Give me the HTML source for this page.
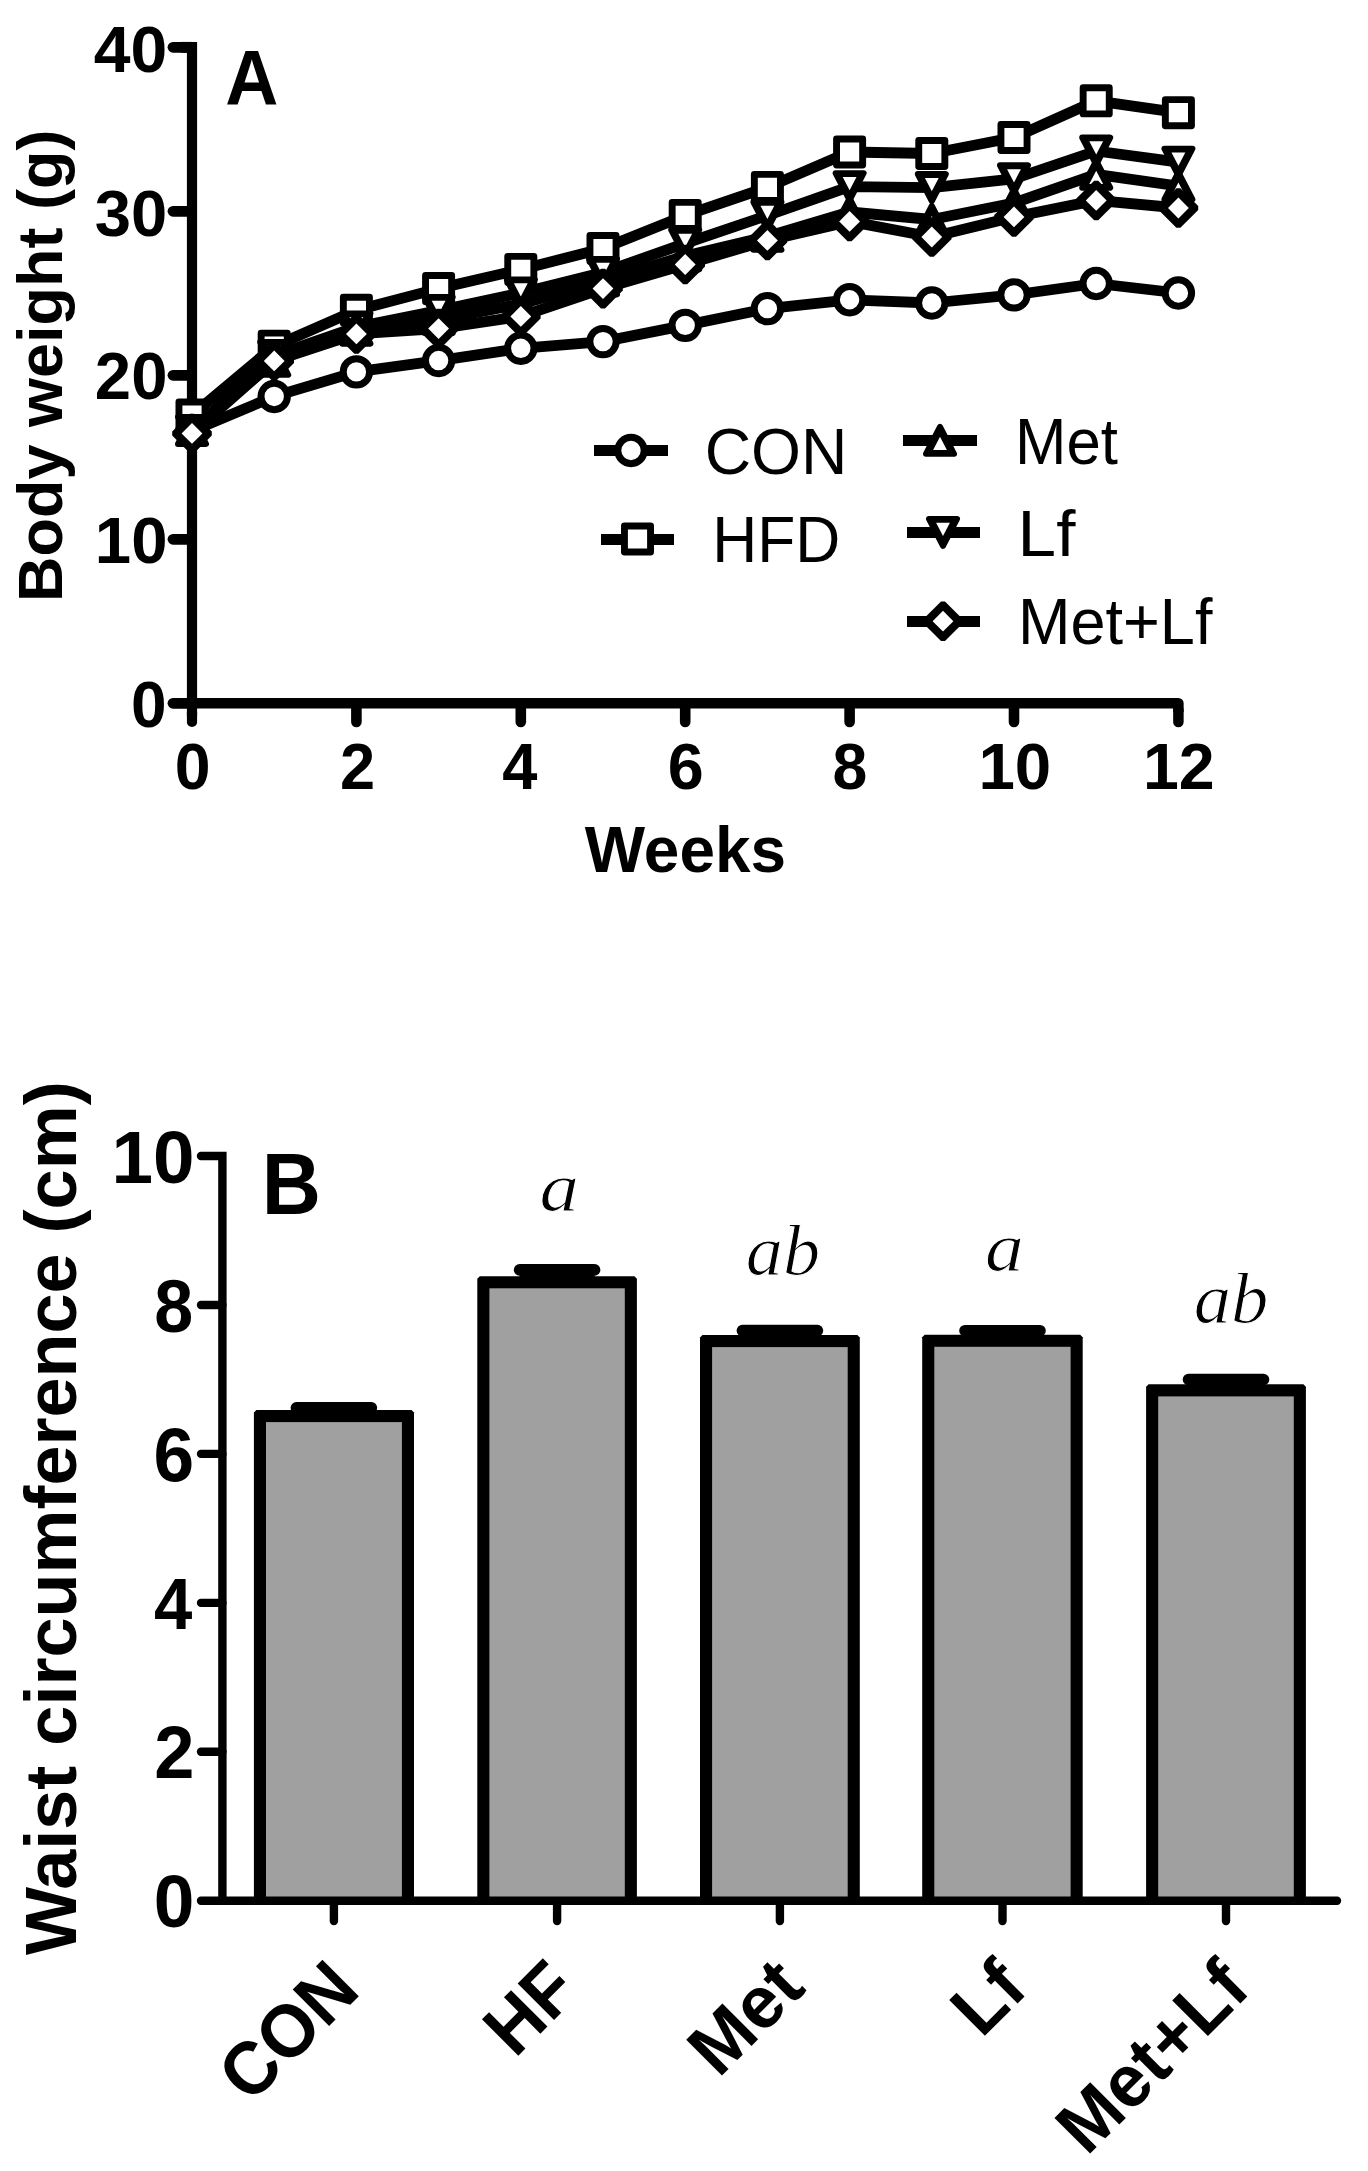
<!DOCTYPE html>
<html><head><meta charset="utf-8"><title>Figure</title>
<style>html,body{margin:0;padding:0;background:#fff;}svg{display:block;}</style>
</head><body>
<svg width="1368" height="2171" viewBox="0 0 1368 2171">
<rect width="1368" height="2171" fill="#fff"/>
<g stroke="#000" fill="none">
<line x1="173" y1="47.30" x2="190" y2="47.30" stroke-width="10.8" stroke-linecap="round"/>
<path d="M181,47.30 L192,47.30" stroke-width="10.8" stroke-linejoin="miter"/>
<line x1="192" y1="41.90" x2="192" y2="716" stroke-width="10.2"/>
<line x1="192" y1="712" x2="192" y2="722" stroke-width="10.2" stroke-linecap="round"/>
<line x1="173" y1="211.30" x2="190" y2="211.30" stroke-width="10.8" stroke-linecap="round"/>
<line x1="173" y1="375.30" x2="190" y2="375.30" stroke-width="10.8" stroke-linecap="round"/>
<line x1="173" y1="539.30" x2="190" y2="539.30" stroke-width="10.8" stroke-linecap="round"/>
<line x1="173" y1="703.30" x2="190" y2="703.30" stroke-width="10.8" stroke-linecap="round"/>
<path d="M192,703.3 L1178.40,703.3 L1178.40,712" stroke-width="10.5" stroke-linejoin="round"/>
<line x1="1178.40" y1="710" x2="1178.40" y2="722" stroke-width="10.5" stroke-linecap="round"/>
<line x1="356.40" y1="706.3" x2="356.40" y2="722" stroke-width="10.6" stroke-linecap="round"/>
<line x1="520.80" y1="706.3" x2="520.80" y2="722" stroke-width="10.6" stroke-linecap="round"/>
<line x1="685.20" y1="706.3" x2="685.20" y2="722" stroke-width="10.6" stroke-linecap="round"/>
<line x1="849.60" y1="706.3" x2="849.60" y2="722" stroke-width="10.6" stroke-linecap="round"/>
<line x1="1014.00" y1="706.3" x2="1014.00" y2="722" stroke-width="10.6" stroke-linecap="round"/>
</g>
<polyline points="192.0,431.0 274.2,396.4 356.4,371.9 438.6,360.6 520.8,348.3 603.0,341.6 685.2,325.4 767.4,308.6 849.6,299.8 931.8,303.0 1014.0,294.9 1096.2,283.5 1178.4,293.0" fill="none" stroke="#000" stroke-width="10.8" stroke-linejoin="round"/>
<circle cx="192.00" cy="431.00" r="13.2" fill="#fff" stroke="#000" stroke-width="7"/>
<circle cx="274.20" cy="396.45" r="13.2" fill="#fff" stroke="#000" stroke-width="7"/>
<circle cx="356.40" cy="371.90" r="13.2" fill="#fff" stroke="#000" stroke-width="7"/>
<circle cx="438.60" cy="360.55" r="13.2" fill="#fff" stroke="#000" stroke-width="7"/>
<circle cx="520.80" cy="348.30" r="13.2" fill="#fff" stroke="#000" stroke-width="7"/>
<circle cx="603.00" cy="341.60" r="13.2" fill="#fff" stroke="#000" stroke-width="7"/>
<circle cx="685.20" cy="325.35" r="13.2" fill="#fff" stroke="#000" stroke-width="7"/>
<circle cx="767.40" cy="308.60" r="13.2" fill="#fff" stroke="#000" stroke-width="7"/>
<circle cx="849.60" cy="299.75" r="13.2" fill="#fff" stroke="#000" stroke-width="7"/>
<circle cx="931.80" cy="303.00" r="13.2" fill="#fff" stroke="#000" stroke-width="7"/>
<circle cx="1014.00" cy="294.90" r="13.2" fill="#fff" stroke="#000" stroke-width="7"/>
<circle cx="1096.20" cy="283.50" r="13.2" fill="#fff" stroke="#000" stroke-width="7"/>
<circle cx="1178.40" cy="293.00" r="13.2" fill="#fff" stroke="#000" stroke-width="7"/>
<polyline points="192.0,415.1 274.2,346.2 356.4,310.2 438.6,288.6 520.8,269.4 603.0,248.6 685.2,215.4 767.4,187.4 849.6,152.0 931.8,153.5 1014.0,137.5 1096.2,100.8 1178.4,112.7" fill="none" stroke="#000" stroke-width="10.8" stroke-linejoin="round"/>
<rect x="178.95" y="402.00" width="26.1" height="26.1" fill="#fff" stroke="#000" stroke-width="6.9" stroke-linejoin="round"/>
<rect x="261.15" y="333.15" width="26.1" height="26.1" fill="#fff" stroke="#000" stroke-width="6.9" stroke-linejoin="round"/>
<rect x="343.35" y="297.20" width="26.1" height="26.1" fill="#fff" stroke="#000" stroke-width="6.9" stroke-linejoin="round"/>
<rect x="425.55" y="275.55" width="26.1" height="26.1" fill="#fff" stroke="#000" stroke-width="6.9" stroke-linejoin="round"/>
<rect x="507.75" y="256.40" width="26.1" height="26.1" fill="#fff" stroke="#000" stroke-width="6.9" stroke-linejoin="round"/>
<rect x="589.95" y="235.50" width="26.1" height="26.1" fill="#fff" stroke="#000" stroke-width="6.9" stroke-linejoin="round"/>
<rect x="672.15" y="202.40" width="26.1" height="26.1" fill="#fff" stroke="#000" stroke-width="6.9" stroke-linejoin="round"/>
<rect x="754.35" y="174.40" width="26.1" height="26.1" fill="#fff" stroke="#000" stroke-width="6.9" stroke-linejoin="round"/>
<rect x="836.55" y="138.95" width="26.1" height="26.1" fill="#fff" stroke="#000" stroke-width="6.9" stroke-linejoin="round"/>
<rect x="918.75" y="140.45" width="26.1" height="26.1" fill="#fff" stroke="#000" stroke-width="6.9" stroke-linejoin="round"/>
<rect x="1000.95" y="124.45" width="26.1" height="26.1" fill="#fff" stroke="#000" stroke-width="6.9" stroke-linejoin="round"/>
<rect x="1083.15" y="87.80" width="26.1" height="26.1" fill="#fff" stroke="#000" stroke-width="6.9" stroke-linejoin="round"/>
<rect x="1165.35" y="99.60" width="26.1" height="26.1" fill="#fff" stroke="#000" stroke-width="6.9" stroke-linejoin="round"/>
<polyline points="192.0,430.5 274.2,361.4 356.4,330.2 438.6,319.6 520.8,304.0 603.0,281.0 685.2,256.0 767.4,236.4 849.6,212.0 931.8,219.5 1014.0,203.0 1096.2,174.3 1178.4,186.0" fill="none" stroke="#000" stroke-width="10.8" stroke-linejoin="round"/>
<path d="M192.00,417.00 L206.00,443.95 L178.00,443.95 Z" fill="#000" stroke="#000" stroke-width="6" stroke-linejoin="round"/><path d="M192.00,426.90 L198.90,440.15 L185.10,440.15 Z" fill="#fff"/>
<path d="M274.20,347.90 L288.20,374.85 L260.20,374.85 Z" fill="#000" stroke="#000" stroke-width="6" stroke-linejoin="round"/><path d="M274.20,357.80 L281.10,371.05 L267.30,371.05 Z" fill="#fff"/>
<path d="M356.40,316.75 L370.40,343.70 L342.40,343.70 Z" fill="#000" stroke="#000" stroke-width="6" stroke-linejoin="round"/><path d="M356.40,326.65 L363.30,339.90 L349.50,339.90 Z" fill="#fff"/>
<path d="M438.60,306.10 L452.60,333.05 L424.60,333.05 Z" fill="#000" stroke="#000" stroke-width="6" stroke-linejoin="round"/><path d="M438.60,316.00 L445.50,329.25 L431.70,329.25 Z" fill="#fff"/>
<path d="M520.80,290.50 L534.80,317.45 L506.80,317.45 Z" fill="#000" stroke="#000" stroke-width="6" stroke-linejoin="round"/><path d="M520.80,300.40 L527.70,313.65 L513.90,313.65 Z" fill="#fff"/>
<path d="M603.00,267.50 L617.00,294.45 L589.00,294.45 Z" fill="#000" stroke="#000" stroke-width="6" stroke-linejoin="round"/><path d="M603.00,277.40 L609.90,290.65 L596.10,290.65 Z" fill="#fff"/>
<path d="M685.20,242.50 L699.20,269.45 L671.20,269.45 Z" fill="#000" stroke="#000" stroke-width="6" stroke-linejoin="round"/><path d="M685.20,252.40 L692.10,265.65 L678.30,265.65 Z" fill="#fff"/>
<path d="M767.40,222.90 L781.40,249.85 L753.40,249.85 Z" fill="#000" stroke="#000" stroke-width="6" stroke-linejoin="round"/><path d="M767.40,232.80 L774.30,246.05 L760.50,246.05 Z" fill="#fff"/>
<path d="M849.60,198.50 L863.60,225.45 L835.60,225.45 Z" fill="#000" stroke="#000" stroke-width="6" stroke-linejoin="round"/><path d="M849.60,208.40 L856.50,221.65 L842.70,221.65 Z" fill="#fff"/>
<path d="M931.80,206.00 L945.80,232.95 L917.80,232.95 Z" fill="#000" stroke="#000" stroke-width="6" stroke-linejoin="round"/><path d="M931.80,215.90 L938.70,229.15 L924.90,229.15 Z" fill="#fff"/>
<path d="M1014.00,189.50 L1028.00,216.45 L1000.00,216.45 Z" fill="#000" stroke="#000" stroke-width="6" stroke-linejoin="round"/><path d="M1014.00,199.40 L1020.90,212.65 L1007.10,212.65 Z" fill="#fff"/>
<path d="M1096.20,160.80 L1110.20,187.75 L1082.20,187.75 Z" fill="#000" stroke="#000" stroke-width="6" stroke-linejoin="round"/><path d="M1096.20,170.70 L1103.10,183.95 L1089.30,183.95 Z" fill="#fff"/>
<path d="M1178.40,172.50 L1192.40,199.45 L1164.40,199.45 Z" fill="#000" stroke="#000" stroke-width="6" stroke-linejoin="round"/><path d="M1178.40,182.40 L1185.30,195.65 L1171.50,195.65 Z" fill="#fff"/>
<polyline points="192.0,430.4 274.2,355.5 356.4,327.0 438.6,310.5 520.8,293.0 603.0,272.4 685.2,243.4 767.4,215.5 849.6,186.6 931.8,187.6 1014.0,178.8 1096.2,151.0 1178.4,162.1" fill="none" stroke="#000" stroke-width="10.8" stroke-linejoin="round"/>
<path d="M192.00,443.90 L206.00,416.95 L178.00,416.95 Z" fill="#000" stroke="#000" stroke-width="6" stroke-linejoin="round"/><path d="M192.00,434.00 L198.90,420.75 L185.10,420.75 Z" fill="#fff"/>
<path d="M274.20,369.00 L288.20,342.05 L260.20,342.05 Z" fill="#000" stroke="#000" stroke-width="6" stroke-linejoin="round"/><path d="M274.20,359.10 L281.10,345.85 L267.30,345.85 Z" fill="#fff"/>
<path d="M356.40,340.50 L370.40,313.55 L342.40,313.55 Z" fill="#000" stroke="#000" stroke-width="6" stroke-linejoin="round"/><path d="M356.40,330.60 L363.30,317.35 L349.50,317.35 Z" fill="#fff"/>
<path d="M438.60,324.00 L452.60,297.05 L424.60,297.05 Z" fill="#000" stroke="#000" stroke-width="6" stroke-linejoin="round"/><path d="M438.60,314.10 L445.50,300.85 L431.70,300.85 Z" fill="#fff"/>
<path d="M520.80,306.50 L534.80,279.55 L506.80,279.55 Z" fill="#000" stroke="#000" stroke-width="6" stroke-linejoin="round"/><path d="M520.80,296.60 L527.70,283.35 L513.90,283.35 Z" fill="#fff"/>
<path d="M603.00,285.90 L617.00,258.95 L589.00,258.95 Z" fill="#000" stroke="#000" stroke-width="6" stroke-linejoin="round"/><path d="M603.00,276.00 L609.90,262.75 L596.10,262.75 Z" fill="#fff"/>
<path d="M685.20,256.90 L699.20,229.95 L671.20,229.95 Z" fill="#000" stroke="#000" stroke-width="6" stroke-linejoin="round"/><path d="M685.20,247.00 L692.10,233.75 L678.30,233.75 Z" fill="#fff"/>
<path d="M767.40,229.00 L781.40,202.05 L753.40,202.05 Z" fill="#000" stroke="#000" stroke-width="6" stroke-linejoin="round"/><path d="M767.40,219.10 L774.30,205.85 L760.50,205.85 Z" fill="#fff"/>
<path d="M849.60,200.10 L863.60,173.15 L835.60,173.15 Z" fill="#000" stroke="#000" stroke-width="6" stroke-linejoin="round"/><path d="M849.60,190.20 L856.50,176.95 L842.70,176.95 Z" fill="#fff"/>
<path d="M931.80,201.05 L945.80,174.10 L917.80,174.10 Z" fill="#000" stroke="#000" stroke-width="6" stroke-linejoin="round"/><path d="M931.80,191.15 L938.70,177.90 L924.90,177.90 Z" fill="#fff"/>
<path d="M1014.00,192.30 L1028.00,165.35 L1000.00,165.35 Z" fill="#000" stroke="#000" stroke-width="6" stroke-linejoin="round"/><path d="M1014.00,182.40 L1020.90,169.15 L1007.10,169.15 Z" fill="#fff"/>
<path d="M1096.20,164.50 L1110.20,137.55 L1082.20,137.55 Z" fill="#000" stroke="#000" stroke-width="6" stroke-linejoin="round"/><path d="M1096.20,154.60 L1103.10,141.35 L1089.30,141.35 Z" fill="#fff"/>
<path d="M1178.40,175.60 L1192.40,148.65 L1164.40,148.65 Z" fill="#000" stroke="#000" stroke-width="6" stroke-linejoin="round"/><path d="M1178.40,165.70 L1185.30,152.45 L1171.50,152.45 Z" fill="#fff"/>
<polyline points="192.0,433.4 274.2,360.9 356.4,333.9 438.6,328.6 520.8,316.4 603.0,288.6 685.2,264.5 767.4,240.4 849.6,221.4 931.8,237.0 1014.0,216.9 1096.2,200.4 1178.4,208.0" fill="none" stroke="#000" stroke-width="10.8" stroke-linejoin="round"/>
<path d="M194.00,413.65 L211.80,431.45 L211.80,435.45 L194.00,453.25 L190.00,453.25 L172.20,435.45 L172.20,431.45 L190.00,413.65 Z" fill="#000"/><path d="M192.00,423.05 L202.40,433.45 L192.00,443.85 L181.60,433.45 Z" fill="#fff"/>
<path d="M276.20,341.10 L294.00,358.90 L294.00,362.90 L276.20,380.70 L272.20,380.70 L254.40,362.90 L254.40,358.90 L272.20,341.10 Z" fill="#000"/><path d="M274.20,350.50 L284.60,360.90 L274.20,371.30 L263.80,360.90 Z" fill="#fff"/>
<path d="M358.40,314.15 L376.20,331.95 L376.20,335.95 L358.40,353.75 L354.40,353.75 L336.60,335.95 L336.60,331.95 L354.40,314.15 Z" fill="#000"/><path d="M356.40,323.55 L366.80,333.95 L356.40,344.35 L346.00,333.95 Z" fill="#fff"/>
<path d="M440.60,308.75 L458.40,326.55 L458.40,330.55 L440.60,348.35 L436.60,348.35 L418.80,330.55 L418.80,326.55 L436.60,308.75 Z" fill="#000"/><path d="M438.60,318.15 L449.00,328.55 L438.60,338.95 L428.20,328.55 Z" fill="#fff"/>
<path d="M522.80,296.60 L540.60,314.40 L540.60,318.40 L522.80,336.20 L518.80,336.20 L501.00,318.40 L501.00,314.40 L518.80,296.60 Z" fill="#000"/><path d="M520.80,306.00 L531.20,316.40 L520.80,326.80 L510.40,316.40 Z" fill="#fff"/>
<path d="M605.00,268.80 L622.80,286.60 L622.80,290.60 L605.00,308.40 L601.00,308.40 L583.20,290.60 L583.20,286.60 L601.00,268.80 Z" fill="#000"/><path d="M603.00,278.20 L613.40,288.60 L603.00,299.00 L592.60,288.60 Z" fill="#fff"/>
<path d="M687.20,244.70 L705.00,262.50 L705.00,266.50 L687.20,284.30 L683.20,284.30 L665.40,266.50 L665.40,262.50 L683.20,244.70 Z" fill="#000"/><path d="M685.20,254.10 L695.60,264.50 L685.20,274.90 L674.80,264.50 Z" fill="#fff"/>
<path d="M769.40,220.65 L787.20,238.45 L787.20,242.45 L769.40,260.25 L765.40,260.25 L747.60,242.45 L747.60,238.45 L765.40,220.65 Z" fill="#000"/><path d="M767.40,230.05 L777.80,240.45 L767.40,250.85 L757.00,240.45 Z" fill="#fff"/>
<path d="M851.60,201.65 L869.40,219.45 L869.40,223.45 L851.60,241.25 L847.60,241.25 L829.80,223.45 L829.80,219.45 L847.60,201.65 Z" fill="#000"/><path d="M849.60,211.05 L860.00,221.45 L849.60,231.85 L839.20,221.45 Z" fill="#fff"/>
<path d="M933.80,217.20 L951.60,235.00 L951.60,239.00 L933.80,256.80 L929.80,256.80 L912.00,239.00 L912.00,235.00 L929.80,217.20 Z" fill="#000"/><path d="M931.80,226.60 L942.20,237.00 L931.80,247.40 L921.40,237.00 Z" fill="#fff"/>
<path d="M1016.00,197.15 L1033.80,214.95 L1033.80,218.95 L1016.00,236.75 L1012.00,236.75 L994.20,218.95 L994.20,214.95 L1012.00,197.15 Z" fill="#000"/><path d="M1014.00,206.55 L1024.40,216.95 L1014.00,227.35 L1003.60,216.95 Z" fill="#fff"/>
<path d="M1098.20,180.65 L1116.00,198.45 L1116.00,202.45 L1098.20,220.25 L1094.20,220.25 L1076.40,202.45 L1076.40,198.45 L1094.20,180.65 Z" fill="#000"/><path d="M1096.20,190.05 L1106.60,200.45 L1096.20,210.85 L1085.80,200.45 Z" fill="#fff"/>
<path d="M1180.40,188.20 L1198.20,206.00 L1198.20,210.00 L1180.40,227.80 L1176.40,227.80 L1158.60,210.00 L1158.60,206.00 L1176.40,188.20 Z" fill="#000"/><path d="M1178.40,197.60 L1188.80,208.00 L1178.40,218.40 L1168.00,208.00 Z" fill="#fff"/>
<g fill="#000">
<rect x="594" y="445" width="74" height="11"/>
<circle cx="631.00" cy="450.50" r="13.2" fill="#fff" stroke="#000" stroke-width="7"/>
<rect x="601" y="534" width="73" height="11"/>
<rect x="624.45" y="525.95" width="26.1" height="26.1" fill="#fff" stroke="#000" stroke-width="6.9" stroke-linejoin="round"/>
<rect x="903" y="435" width="74" height="11"/>
<path d="M940.00,426.90 L954.00,453.85 L926.00,453.85 Z" fill="#000" stroke="#000" stroke-width="6" stroke-linejoin="round"/><path d="M940.00,436.80 L946.90,450.05 L933.10,450.05 Z" fill="#fff"/>
<rect x="907" y="527" width="73" height="11"/>
<path d="M943.00,545.90 L957.00,518.95 L929.00,518.95 Z" fill="#000" stroke="#000" stroke-width="6" stroke-linejoin="round"/><path d="M943.00,536.00 L949.90,522.75 L936.10,522.75 Z" fill="#fff"/>
<rect x="907" y="616" width="73" height="11"/>
<path d="M945.00,601.40 L962.80,619.20 L962.80,623.20 L945.00,641.00 L941.00,641.00 L923.20,623.20 L923.20,619.20 L941.00,601.40 Z" fill="#000"/><path d="M943.00,610.80 L953.40,621.20 L943.00,631.60 L932.60,621.20 Z" fill="#fff"/>
</g>
<g fill="#000">
<text transform="translate(93.77,71.80) scale(1.0328,1.0156)" font-family="Liberation Sans, sans-serif" font-weight="bold" font-size="64">40</text>
<text transform="translate(94.76,236.00) scale(1.0182,1.0222)" font-family="Liberation Sans, sans-serif" font-weight="bold" font-size="64">30</text>
<text transform="translate(94.86,399.10) scale(1.0197,1.0311)" font-family="Liberation Sans, sans-serif" font-weight="bold" font-size="64">20</text>
<text transform="translate(94.82,563.00) scale(1.0203,1.0222)" font-family="Liberation Sans, sans-serif" font-weight="bold" font-size="64">10</text>
<text transform="translate(131.00,727.00) scale(1.0000,1.0222)" font-family="Liberation Sans, sans-serif" font-weight="bold" font-size="64">0</text>
<text transform="translate(174.78,789.00) scale(1.0067,1.0222)" font-family="Liberation Sans, sans-serif" font-weight="bold" font-size="64">0</text>
<text transform="translate(340.03,789.00) scale(0.9871,1.0222)" font-family="Liberation Sans, sans-serif" font-weight="bold" font-size="64">2</text>
<text transform="translate(502.21,788.50) scale(0.9882,1.0067)" font-family="Liberation Sans, sans-serif" font-weight="bold" font-size="64">4</text>
<text transform="translate(667.78,788.50) scale(1.0097,1.0067)" font-family="Liberation Sans, sans-serif" font-weight="bold" font-size="64">6</text>
<text transform="translate(832.44,788.50) scale(0.9781,1.0067)" font-family="Liberation Sans, sans-serif" font-weight="bold" font-size="64">8</text>
<text transform="translate(978.41,788.50) scale(1.0234,1.0111)" font-family="Liberation Sans, sans-serif" font-weight="bold" font-size="64">10</text>
<text transform="translate(1142.97,788.50) scale(1.0077,1.0111)" font-family="Liberation Sans, sans-serif" font-weight="bold" font-size="64">12</text>
<text transform="translate(584.70,871.60) scale(0.9985,1.0100)" font-family="Liberation Sans, sans-serif" font-weight="bold" font-size="64">Weeks</text>
<text transform="translate(62.20,601.90) rotate(-90) scale(0.9998,1.0000)" font-family="Liberation Sans, sans-serif" font-weight="bold" font-size="63">Body weight (g)</text>
<text transform="translate(225.21,104.90) scale(0.9939,1.0412)" font-family="Liberation Sans, sans-serif" font-weight="bold" font-size="74">A</text>
<text transform="translate(704.69,474.00) scale(1.0037,1.0220)" font-family="Liberation Sans, sans-serif" font-size="64">CON</text>
<text transform="translate(712.13,561.80) scale(0.9740,1.0220)" font-family="Liberation Sans, sans-serif" font-size="64">HFD</text>
<text transform="translate(1014.98,463.90) scale(0.9644,1.0220)" font-family="Liberation Sans, sans-serif" font-size="64">Met</text>
<text transform="translate(1017.58,555.80) scale(1.0833,1.0220)" font-family="Liberation Sans, sans-serif" font-size="64">Lf</text>
<text transform="translate(1017.98,643.90) scale(0.9850,1.0220)" font-family="Liberation Sans, sans-serif" font-size="64">Met+Lf</text>
</g>
<line x1="296.4" y1="1407.8" x2="371.4" y2="1407.8" stroke="#000" stroke-width="11.6" stroke-linecap="round"/>
<rect x="296.4" y="1407.8" width="75" height="8.0" fill="#000"/>
<path d="M253.9,1900.8 L253.9,1412.5 L256.4,1410.0 L411.5,1410.0 L414.0,1412.5 L414.0,1900.8 Z" fill="#000"/>
<rect x="266.0" y="1422.1" width="135.9" height="478.7" fill="#a0a0a0"/>
<line x1="519.6" y1="1269.9" x2="594.6" y2="1269.9" stroke="#000" stroke-width="11.6" stroke-linecap="round"/>
<rect x="519.6" y="1269.9" width="75" height="12.1" fill="#000"/>
<path d="M477.3,1900.8 L477.3,1278.7 L479.8,1276.2 L634.4,1276.2 L636.9,1278.7 L636.9,1900.8 Z" fill="#000"/>
<rect x="489.4" y="1288.3" width="135.4" height="612.5" fill="#a0a0a0"/>
<line x1="742.4" y1="1330.6" x2="817.4" y2="1330.6" stroke="#000" stroke-width="11.6" stroke-linecap="round"/>
<rect x="742.4" y="1330.6" width="75" height="10.2" fill="#000"/>
<path d="M700.0,1900.8 L700.0,1337.5 L702.5,1335.0 L857.3,1335.0 L859.8,1337.5 L859.8,1900.8 Z" fill="#000"/>
<rect x="712.1" y="1347.1" width="135.6" height="553.7" fill="#a0a0a0"/>
<line x1="965.0" y1="1330.7" x2="1040.0" y2="1330.7" stroke="#000" stroke-width="11.6" stroke-linecap="round"/>
<rect x="965.0" y="1330.7" width="75" height="9.8" fill="#000"/>
<path d="M922.2,1900.8 L922.2,1337.2 L924.7,1334.7 L1080.2,1334.7 L1082.7,1337.2 L1082.7,1900.8 Z" fill="#000"/>
<rect x="934.3" y="1346.8" width="136.3" height="554.0" fill="#a0a0a0"/>
<line x1="1188.5" y1="1379.5" x2="1263.5" y2="1379.5" stroke="#000" stroke-width="11.6" stroke-linecap="round"/>
<rect x="1188.5" y="1379.5" width="75" height="10.6" fill="#000"/>
<path d="M1146.1,1900.8 L1146.1,1386.8 L1148.6,1384.3 L1303.4,1384.3 L1305.9,1386.8 L1305.9,1900.8 Z" fill="#000"/>
<rect x="1158.2" y="1396.4" width="135.6" height="504.4" fill="#a0a0a0"/>
<g stroke="#000" stroke-width="8.4" fill="none">
<path d="M201,1156.0 L222.4,1156.0 L222.4,1900.8" stroke-linecap="round" stroke-linejoin="miter"/>
<line x1="201" y1="1305.0" x2="222.4" y2="1305.0" stroke-linecap="round"/>
<line x1="201" y1="1453.9" x2="222.4" y2="1453.9" stroke-linecap="round"/>
<line x1="201" y1="1602.9" x2="222.4" y2="1602.9" stroke-linecap="round"/>
<line x1="201" y1="1751.8" x2="222.4" y2="1751.8" stroke-linecap="round"/>
<line x1="201" y1="1900.8" x2="1337" y2="1900.8" stroke-linecap="round"/>
<line x1="333.9" y1="1903.3" x2="333.9" y2="1921" stroke-linecap="round"/>
<line x1="557.1" y1="1903.3" x2="557.1" y2="1921" stroke-linecap="round"/>
<line x1="779.9" y1="1903.3" x2="779.9" y2="1921" stroke-linecap="round"/>
<line x1="1002.5" y1="1903.3" x2="1002.5" y2="1921" stroke-linecap="round"/>
<line x1="1226.0" y1="1903.3" x2="1226.0" y2="1921" stroke-linecap="round"/>
</g>
<g fill="#000">
<text transform="translate(111.41,1183.40) scale(1.0375,1.0333)" font-family="Liberation Sans, sans-serif" font-weight="bold" font-size="72">10</text>
<text transform="translate(154.36,1331.80) scale(0.9722,1.0353)" font-family="Liberation Sans, sans-serif" font-weight="bold" font-size="72">8</text>
<text transform="translate(153.56,1481.30) scale(1.0147,1.0471)" font-family="Liberation Sans, sans-serif" font-weight="bold" font-size="72">6</text>
<text transform="translate(153.94,1628.90) scale(0.9564,1.0080)" font-family="Liberation Sans, sans-serif" font-weight="bold" font-size="72">4</text>
<text transform="translate(154.19,1778.10) scale(1.0029,1.0294)" font-family="Liberation Sans, sans-serif" font-weight="bold" font-size="72">2</text>
<text transform="translate(153.76,1927.40) scale(1.0147,1.0176)" font-family="Liberation Sans, sans-serif" font-weight="bold" font-size="72">0</text>
<text transform="translate(261.74,1214.10) scale(0.9765,1.0397)" font-family="Liberation Sans, sans-serif" font-weight="bold" font-size="84">B</text>
<text transform="translate(76.00,1955.00) rotate(-90) scale(1.0000,1.0000)" font-family="Liberation Sans, sans-serif" font-weight="bold" font-size="72">Waist circumference (cm)</text>
<text transform="translate(539.44,1211.20) scale(1.0813,0.9543)" font-family="Liberation Serif, serif" font-style="italic" font-size="73" stroke="#fff" stroke-width="1.0">a</text>
<text transform="translate(745.87,1275.00) scale(1.0174,0.9827)" font-family="Liberation Serif, serif" font-style="italic" font-size="73" stroke="#fff" stroke-width="1.0">ab</text>
<text transform="translate(984.88,1271.10) scale(1.0625,0.9600)" font-family="Liberation Serif, serif" font-style="italic" font-size="73" stroke="#fff" stroke-width="1.0">a</text>
<text transform="translate(1193.76,1323.20) scale(1.0217,0.9846)" font-family="Liberation Serif, serif" font-style="italic" font-size="73" stroke="#fff" stroke-width="1.0">ab</text>
<text transform="translate(250.00,2104.90) rotate(-45) scale(0.9913,1.0400)" font-family="Liberation Sans, sans-serif" font-weight="bold" font-size="72">CON</text>
<text transform="translate(514.90,2058.95) rotate(-45) scale(0.9745,1.0400)" font-family="Liberation Sans, sans-serif" font-weight="bold" font-size="72">HF</text>
<text transform="translate(718.45,2079.00) rotate(-45) scale(1.0159,1.0200)" font-family="Liberation Sans, sans-serif" font-weight="bold" font-size="72">Met</text>
<text transform="translate(981.50,2039.35) rotate(-45) scale(1.0034,1.0200)" font-family="Liberation Sans, sans-serif" font-weight="bold" font-size="72">Lf</text>
<text transform="translate(1086.80,2157.05) rotate(-45) scale(1.0020,1.0200)" font-family="Liberation Sans, sans-serif" font-weight="bold" font-size="72">Met+Lf</text>
</g>
</svg>
</body></html>
